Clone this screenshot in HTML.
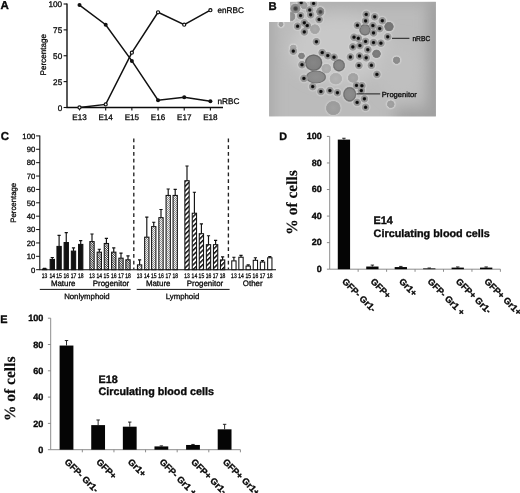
<!DOCTYPE html>
<html><head><meta charset="utf-8"><title>Figure</title>
<style>html,body{margin:0;padding:0;background:#fff;overflow:hidden;}svg{display:block;}text{font-family:"Liberation Sans",Arial,sans-serif;fill:#0a0a0a;stroke:#0a0a0a;stroke-width:0.3px;text-rendering:geometricPrecision;}.b{font-weight:bold;stroke-width:0.35px;}.s{font-family:"Liberation Serif","Times New Roman",serif;font-weight:bold;stroke-width:0.15px;}</style></head><body>
<svg width="520" height="493" viewBox="0 0 520 493">
<defs>
<pattern id="pDot" width="2" height="2" patternUnits="userSpaceOnUse"><rect width="2" height="2" fill="#f2f2f2"/><rect width="1" height="1" fill="#909090"/><rect x="1" y="1" width="1" height="1" fill="#909090"/></pattern>
<pattern id="pFine" width="1.6" height="1.6" patternUnits="userSpaceOnUse" patternTransform="rotate(45)"><rect width="1.6" height="1.6" fill="#fff"/><rect width="1.6" height="0.75" fill="#222"/></pattern>
<pattern id="pWide" width="3.4" height="3.4" patternUnits="userSpaceOnUse" patternTransform="rotate(-45)"><rect width="3.4" height="3.4" fill="#fff"/><rect width="3.4" height="1.5" fill="#111"/></pattern>
<filter id="bl" x="-20%" y="-20%" width="140%" height="140%"><feGaussianBlur stdDeviation="0.9"/></filter>
<filter id="bl2" x="-30%" y="-30%" width="160%" height="160%"><feGaussianBlur stdDeviation="1.3"/></filter>
<filter id="bl4" x="-30%" y="-30%" width="160%" height="160%"><feGaussianBlur stdDeviation="7"/></filter>
<filter id="bl3" x="-30%" y="-30%" width="160%" height="160%"><feGaussianBlur stdDeviation="0.55"/></filter>
<linearGradient id="bg" x1="0" y1="0" x2="1" y2="1"><stop offset="0" stop-color="#b9b9b9"/><stop offset="0.5" stop-color="#c6c6c6"/><stop offset="1" stop-color="#b4b4b4"/></linearGradient>
<clipPath id="clipB"><path d="M290.2 1.8H435.8V116.3H269.2V22H290.2Z"/></clipPath>
</defs>
<rect width="520" height="493" fill="#fff"/>
<g id="panelA">
<text class="b" x="0.6" y="9.2" font-size="11.5">A</text>
<path d="M67.0 3.45V107.5H223" fill="none" stroke="#0a0a0a" stroke-width="1.35"/>
<path d="M63.6 107.50H67.0" stroke="#111" stroke-width="1.1"/>
<text x="62.2" y="110.60" font-size="8.2" text-anchor="end">0</text>
<path d="M63.6 81.62H67.0" stroke="#111" stroke-width="1.1"/>
<text x="62.2" y="84.72" font-size="8.2" text-anchor="end">25</text>
<path d="M63.6 55.75H67.0" stroke="#111" stroke-width="1.1"/>
<text x="62.2" y="58.85" font-size="8.2" text-anchor="end">50</text>
<path d="M63.6 29.88H67.0" stroke="#111" stroke-width="1.1"/>
<text x="62.2" y="32.98" font-size="8.2" text-anchor="end">75</text>
<path d="M63.6 4.00H67.0" stroke="#111" stroke-width="1.1"/>
<text x="62.2" y="7.10" font-size="8.2" text-anchor="end">100</text>
<path d="M79.50 107.5V110.5" stroke="#111" stroke-width="1.1"/>
<text x="79.50" y="119.6" font-size="8.1" text-anchor="middle">E13</text>
<path d="M105.68 107.5V110.5" stroke="#111" stroke-width="1.1"/>
<text x="105.68" y="119.6" font-size="8.1" text-anchor="middle">E14</text>
<path d="M131.86 107.5V110.5" stroke="#111" stroke-width="1.1"/>
<text x="131.86" y="119.6" font-size="8.1" text-anchor="middle">E15</text>
<path d="M158.04 107.5V110.5" stroke="#111" stroke-width="1.1"/>
<text x="158.04" y="119.6" font-size="8.1" text-anchor="middle">E16</text>
<path d="M184.22 107.5V110.5" stroke="#111" stroke-width="1.1"/>
<text x="184.22" y="119.6" font-size="8.1" text-anchor="middle">E17</text>
<path d="M210.40 107.5V110.5" stroke="#111" stroke-width="1.1"/>
<text x="210.40" y="119.6" font-size="8.1" text-anchor="middle">E18</text>
<text transform="translate(46 54.7) rotate(-90)" font-size="8.1" text-anchor="middle">Percentage</text>
<polyline fill="none" stroke="#111" stroke-width="1.5" points="79.50,107.50 105.68,104.39 131.86,52.65 158.04,12.28 184.22,24.70 210.40,10.21"/>
<polyline fill="none" stroke="#111" stroke-width="1.5" points="79.50,5.03 105.68,24.70 131.86,60.92 158.04,100.25 184.22,97.15 210.40,101.29"/>
<circle cx="79.50" cy="107.50" r="1.55" fill="#fff" stroke="#111" stroke-width="1.2"/>
<circle cx="105.68" cy="104.39" r="1.55" fill="#fff" stroke="#111" stroke-width="1.2"/>
<circle cx="131.86" cy="52.65" r="1.55" fill="#fff" stroke="#111" stroke-width="1.2"/>
<circle cx="158.04" cy="12.28" r="1.55" fill="#fff" stroke="#111" stroke-width="1.2"/>
<circle cx="184.22" cy="24.70" r="1.55" fill="#fff" stroke="#111" stroke-width="1.2"/>
<circle cx="210.40" cy="10.21" r="1.55" fill="#fff" stroke="#111" stroke-width="1.2"/>
<circle cx="79.50" cy="5.03" r="2.0" fill="#111"/>
<circle cx="105.68" cy="24.70" r="2.0" fill="#111"/>
<circle cx="131.86" cy="60.92" r="2.0" fill="#111"/>
<circle cx="158.04" cy="100.25" r="2.0" fill="#111"/>
<circle cx="184.22" cy="97.15" r="2.0" fill="#111"/>
<circle cx="210.40" cy="101.29" r="2.0" fill="#111"/>
<text x="217.5" y="12.8" font-size="8.2">enRBC</text>
<text x="217.5" y="103.6" font-size="8.2">nRBC</text>
</g>
<g id="panelB">
<g clip-path="url(#clipB)">
<rect x="269" y="2" width="168" height="115" fill="url(#bg)"/>
<rect x="269" y="2" width="168" height="115" fill="#bbbbbb"/>
<g filter="url(#bl4)">
<ellipse cx="340" cy="50" rx="50" ry="34" fill="#c8c8c8"/>
<ellipse cx="400" cy="70" rx="22" ry="30" fill="#bfbfbf"/>
<rect x="428" y="-10" width="20" height="140" fill="#9c9c9c"/>
<rect x="255" y="-10" width="18" height="140" fill="#a8a8a8"/>
<rect x="255" y="-8" width="190" height="12" fill="#a8a8a8"/>
<rect x="395" y="108" width="50" height="20" fill="#a0a0a0"/>
</g>
<defs>
<radialGradient id="gH"><stop offset="0" stop-color="#d8d8d8" stop-opacity="0.95"/><stop offset="0.62" stop-color="#d8d8d8" stop-opacity="0.9"/><stop offset="1" stop-color="#d0d0d0" stop-opacity="0"/></radialGradient>
<radialGradient id="gC"><stop offset="0" stop-color="#8a8a8a"/><stop offset="0.55" stop-color="#929292"/><stop offset="0.8" stop-color="#9e9e9e"/><stop offset="1" stop-color="#a8a8a8" stop-opacity="0"/></radialGradient>
<radialGradient id="gN"><stop offset="0" stop-color="#060606"/><stop offset="0.5" stop-color="#121212"/><stop offset="0.8" stop-color="#444" stop-opacity="0.75"/><stop offset="1" stop-color="#666" stop-opacity="0"/></radialGradient>
<radialGradient id="gN2"><stop offset="0" stop-color="#383838"/><stop offset="0.5" stop-color="#484848"/><stop offset="1" stop-color="#666" stop-opacity="0"/></radialGradient>
<radialGradient id="gB0"><stop offset="0" stop-color="#929292"/><stop offset="0.639" stop-color="#8c8c8c"/><stop offset="0.759" stop-color="#8c8c8c"/><stop offset="0.898" stop-color="#8c8c8c" stop-opacity="0.85"/><stop offset="1" stop-color="#8c8c8c" stop-opacity="0"/></radialGradient>
<radialGradient id="gB1"><stop offset="0" stop-color="#949494"/><stop offset="0.570" stop-color="#8e8e8e"/><stop offset="0.690" stop-color="#8e8e8e"/><stop offset="0.869" stop-color="#8e8e8e" stop-opacity="0.85"/><stop offset="1" stop-color="#8e8e8e" stop-opacity="0"/></radialGradient>
<radialGradient id="gB2"><stop offset="0" stop-color="#a0a0a0"/><stop offset="0.547" stop-color="#9a9a9a"/><stop offset="0.667" stop-color="#9a9a9a"/><stop offset="0.859" stop-color="#9a9a9a" stop-opacity="0.85"/><stop offset="1" stop-color="#9a9a9a" stop-opacity="0"/></radialGradient>
<radialGradient id="gB3"><stop offset="0" stop-color="#8c8c8c"/><stop offset="0.585" stop-color="#868686"/><stop offset="0.705" stop-color="#868686"/><stop offset="0.875" stop-color="#868686" stop-opacity="0.85"/><stop offset="1" stop-color="#868686" stop-opacity="0"/></radialGradient>
<radialGradient id="gB4"><stop offset="0" stop-color="#aaaaaa"/><stop offset="0.630" stop-color="#a4a4a4"/><stop offset="0.750" stop-color="#a4a4a4"/><stop offset="0.894" stop-color="#a4a4a4" stop-opacity="0.85"/><stop offset="1" stop-color="#a4a4a4" stop-opacity="0"/></radialGradient>
<radialGradient id="gB5"><stop offset="0" stop-color="#a2a2a2"/><stop offset="0.416" stop-color="#9c9c9c"/><stop offset="0.536" stop-color="#9c9c9c"/><stop offset="0.804" stop-color="#9c9c9c" stop-opacity="0.85"/><stop offset="1" stop-color="#9c9c9c" stop-opacity="0"/></radialGradient>
<radialGradient id="gB6"><stop offset="0" stop-color="#868686"/><stop offset="0.519" stop-color="#808080"/><stop offset="0.639" stop-color="#808080"/><stop offset="0.847" stop-color="#808080" stop-opacity="0.85"/><stop offset="1" stop-color="#808080" stop-opacity="0"/></radialGradient>
<radialGradient id="gB7"><stop offset="0" stop-color="#868686"/><stop offset="0.739" stop-color="#808080"/><stop offset="0.859" stop-color="#666666"/><stop offset="0.940" stop-color="#808080" stop-opacity="0.85"/><stop offset="1" stop-color="#808080" stop-opacity="0"/></radialGradient>
<radialGradient id="gB8"><stop offset="0" stop-color="#8c8c8c"/><stop offset="0.670" stop-color="#868686"/><stop offset="0.790" stop-color="#6c6c6c"/><stop offset="0.911" stop-color="#868686" stop-opacity="0.85"/><stop offset="1" stop-color="#868686" stop-opacity="0"/></radialGradient>
<radialGradient id="gB9"><stop offset="0" stop-color="#808080"/><stop offset="0.597" stop-color="#7a7a7a"/><stop offset="0.717" stop-color="#7a7a7a"/><stop offset="0.880" stop-color="#7a7a7a" stop-opacity="0.85"/><stop offset="1" stop-color="#7a7a7a" stop-opacity="0"/></radialGradient>
<radialGradient id="gB10"><stop offset="0" stop-color="#7a7a7a"/><stop offset="0.620" stop-color="#747474"/><stop offset="0.740" stop-color="#747474"/><stop offset="0.890" stop-color="#747474" stop-opacity="0.85"/><stop offset="1" stop-color="#747474" stop-opacity="0"/></radialGradient>
<radialGradient id="gB11"><stop offset="0" stop-color="#909090"/><stop offset="0.555" stop-color="#8a8a8a"/><stop offset="0.675" stop-color="#8a8a8a"/><stop offset="0.863" stop-color="#8a8a8a" stop-opacity="0.85"/><stop offset="1" stop-color="#8a8a8a" stop-opacity="0"/></radialGradient>
<radialGradient id="gB12"><stop offset="0" stop-color="#909090"/><stop offset="0.757" stop-color="#8a8a8a"/><stop offset="0.877" stop-color="#707070"/><stop offset="0.948" stop-color="#8a8a8a" stop-opacity="0.85"/><stop offset="1" stop-color="#8a8a8a" stop-opacity="0"/></radialGradient>
<radialGradient id="gB13"><stop offset="0" stop-color="#8a8a8a"/><stop offset="0.677" stop-color="#848484"/><stop offset="0.797" stop-color="#6a6a6a"/><stop offset="0.914" stop-color="#848484" stop-opacity="0.85"/><stop offset="1" stop-color="#848484" stop-opacity="0"/></radialGradient>
<radialGradient id="gB14"><stop offset="0" stop-color="#b1b1b1"/><stop offset="0.630" stop-color="#ababab"/><stop offset="0.750" stop-color="#ababab"/><stop offset="0.894" stop-color="#ababab" stop-opacity="0.85"/><stop offset="1" stop-color="#ababab" stop-opacity="0"/></radialGradient>
<radialGradient id="gB15"><stop offset="0" stop-color="#b4b4b4"/><stop offset="0.683" stop-color="#aeaeae"/><stop offset="0.803" stop-color="#aeaeae"/><stop offset="0.917" stop-color="#aeaeae" stop-opacity="0.85"/><stop offset="1" stop-color="#aeaeae" stop-opacity="0"/></radialGradient>
<radialGradient id="gB16"><stop offset="0" stop-color="#a8a8a8"/><stop offset="0.648" stop-color="#a2a2a2"/><stop offset="0.768" stop-color="#a2a2a2"/><stop offset="0.902" stop-color="#a2a2a2" stop-opacity="0.85"/><stop offset="1" stop-color="#a2a2a2" stop-opacity="0"/></radialGradient>
<radialGradient id="gB17"><stop offset="0" stop-color="#8d8d8d"/><stop offset="0.694" stop-color="#878787"/><stop offset="0.814" stop-color="#6d6d6d"/><stop offset="0.921" stop-color="#878787" stop-opacity="0.85"/><stop offset="1" stop-color="#878787" stop-opacity="0"/></radialGradient>
<radialGradient id="gB18"><stop offset="0" stop-color="#a2a2a2"/><stop offset="0.709" stop-color="#9c9c9c"/><stop offset="0.829" stop-color="#9c9c9c"/><stop offset="0.928" stop-color="#9c9c9c" stop-opacity="0.85"/><stop offset="1" stop-color="#9c9c9c" stop-opacity="0"/></radialGradient>
<radialGradient id="gB19"><stop offset="0" stop-color="#a4a4a4"/><stop offset="0.563" stop-color="#9e9e9e"/><stop offset="0.683" stop-color="#9e9e9e"/><stop offset="0.866" stop-color="#9e9e9e" stop-opacity="0.85"/><stop offset="1" stop-color="#9e9e9e" stop-opacity="0"/></radialGradient>
<radialGradient id="gB20"><stop offset="0" stop-color="#aaaaaa"/><stop offset="0.519" stop-color="#a4a4a4"/><stop offset="0.639" stop-color="#a4a4a4"/><stop offset="0.847" stop-color="#a4a4a4" stop-opacity="0.85"/><stop offset="1" stop-color="#a4a4a4" stop-opacity="0"/></radialGradient>
</defs>
<g>
<circle cx="313.6" cy="3.4" r="5.6" fill="url(#gH)"/>
<circle cx="309.7" cy="10" r="5.6" fill="url(#gH)"/>
<circle cx="300.6" cy="15.6" r="5.6" fill="url(#gH)"/>
<circle cx="310.6" cy="14.8" r="5.6" fill="url(#gH)"/>
<circle cx="319.1" cy="19.5" r="5.6" fill="url(#gH)"/>
<circle cx="304.3" cy="22.8" r="5.6" fill="url(#gH)"/>
<circle cx="307.2" cy="25.6" r="5.6" fill="url(#gH)"/>
<circle cx="297.6" cy="26.2" r="5.6" fill="url(#gH)"/>
<circle cx="304.3" cy="31.9" r="5.6" fill="url(#gH)"/>
<circle cx="316.4" cy="41.7" r="5.6" fill="url(#gH)"/>
<circle cx="293.3" cy="51.1" r="5.6" fill="url(#gH)"/>
<circle cx="322.2" cy="52.6" r="5.6" fill="url(#gH)"/>
<circle cx="327.8" cy="55.6" r="5.6" fill="url(#gH)"/>
<circle cx="334" cy="57.2" r="5.6" fill="url(#gH)"/>
<circle cx="366.2" cy="14.4" r="5.6" fill="url(#gH)"/>
<circle cx="374.7" cy="16.8" r="5.6" fill="url(#gH)"/>
<circle cx="365.6" cy="20.9" r="5.6" fill="url(#gH)"/>
<circle cx="357.4" cy="25.3" r="5.6" fill="url(#gH)"/>
<circle cx="372.9" cy="25.6" r="5.6" fill="url(#gH)"/>
<circle cx="379.7" cy="28.6" r="5.6" fill="url(#gH)"/>
<circle cx="373.5" cy="32.9" r="5.6" fill="url(#gH)"/>
<circle cx="358.3" cy="38.3" r="5.6" fill="url(#gH)"/>
<circle cx="365.6" cy="41.4" r="5.6" fill="url(#gH)"/>
<circle cx="373.5" cy="42.6" r="5.6" fill="url(#gH)"/>
<circle cx="380.9" cy="43.2" r="5.6" fill="url(#gH)"/>
<circle cx="352.8" cy="46.9" r="5.6" fill="url(#gH)"/>
<circle cx="359.9" cy="45.6" r="5.6" fill="url(#gH)"/>
<circle cx="367.8" cy="49.7" r="5.6" fill="url(#gH)"/>
<circle cx="350.4" cy="57" r="5.6" fill="url(#gH)"/>
<circle cx="359.5" cy="56" r="5.6" fill="url(#gH)"/>
<circle cx="366.2" cy="57.8" r="5.6" fill="url(#gH)"/>
<circle cx="382.3" cy="20.7" r="5.6" fill="url(#gH)"/>
<circle cx="387.7" cy="36.8" r="5.6" fill="url(#gH)"/>
<circle cx="302" cy="64.7" r="5.6" fill="url(#gH)"/>
<circle cx="303.9" cy="78.4" r="5.6" fill="url(#gH)"/>
<circle cx="312.7" cy="86.6" r="5.6" fill="url(#gH)"/>
<circle cx="320.9" cy="91.5" r="5.6" fill="url(#gH)"/>
<circle cx="358.9" cy="65.5" r="5.6" fill="url(#gH)"/>
<circle cx="371.4" cy="65.3" r="5.6" fill="url(#gH)"/>
<circle cx="376.9" cy="74.4" r="5.6" fill="url(#gH)"/>
<circle cx="356.5" cy="85.4" r="5.6" fill="url(#gH)"/>
<circle cx="361.9" cy="85.7" r="5.6" fill="url(#gH)"/>
<circle cx="361.3" cy="90.6" r="5.6" fill="url(#gH)"/>
<circle cx="329.9" cy="90.6" r="5.6" fill="url(#gH)"/>
<circle cx="337.4" cy="92.7" r="5.6" fill="url(#gH)"/>
<circle cx="364.4" cy="98.8" r="5.6" fill="url(#gH)"/>
<circle cx="357.1" cy="102.4" r="5.6" fill="url(#gH)"/>
<circle cx="365.6" cy="107.3" r="5.6" fill="url(#gH)"/>
<circle cx="301.2" cy="2.6" r="5.6" fill="url(#gH)"/>
<circle cx="354" cy="37.2" r="5.6" fill="url(#gH)"/>
<ellipse cx="295.4" cy="8.5" rx="7.199999999999999" ry="7.0" fill="url(#gH)"/>
<ellipse cx="291.5" cy="16.5" rx="6.0" ry="6.6" fill="url(#gH)"/>
<ellipse cx="304" cy="5.5" rx="5.699999999999999" ry="5.699999999999999" fill="url(#gH)"/>
<ellipse cx="320.3" cy="11.6" rx="6.199999999999999" ry="6.6" fill="url(#gH)"/>
<ellipse cx="314.9" cy="29.2" rx="7.0" ry="7.0" fill="url(#gH)"/>
<ellipse cx="281" cy="24.3" rx="4.6" ry="4.6" fill="url(#gH)"/>
<ellipse cx="301.5" cy="55.9" rx="5.4" ry="5.4" fill="url(#gH)"/>
<ellipse cx="313.6" cy="62.7" rx="11.0" ry="10.5" fill="url(#gH)"/>
<ellipse cx="365" cy="29.8" rx="8.0" ry="8.0" fill="url(#gH)"/>
<ellipse cx="376.5" cy="53.8" rx="6.4" ry="6.4" fill="url(#gH)"/>
<ellipse cx="389" cy="26.6" rx="6.800000000000001" ry="6.800000000000001" fill="url(#gH)"/>
<ellipse cx="396.6" cy="60.2" rx="5.8" ry="5.8" fill="url(#gH)"/>
<ellipse cx="316" cy="77" rx="12.4" ry="8.6" fill="url(#gH)"/>
<ellipse cx="339" cy="65.4" rx="8.2" ry="8.4" fill="url(#gH)"/>
<ellipse cx="326.3" cy="68.6" rx="7.0" ry="7.0" fill="url(#gH)"/>
<ellipse cx="335.8" cy="78.7" rx="8.4" ry="7.9" fill="url(#gH)"/>
<ellipse cx="353.1" cy="77.9" rx="7.4" ry="6.9" fill="url(#gH)"/>
<ellipse cx="349.7" cy="94.3" rx="8.8" ry="9.7" fill="url(#gH)"/>
<ellipse cx="333.3" cy="108.1" rx="9.4" ry="9.2" fill="url(#gH)"/>
<ellipse cx="390.8" cy="104.2" rx="5.9" ry="5.9" fill="url(#gH)"/>
<ellipse cx="293.3" cy="47.5" rx="5.4" ry="5.0" fill="url(#gH)"/>
</g>
<g>
<ellipse cx="295.4" cy="8.5" rx="5.3999999999999995" ry="5.199999999999999" fill="url(#gB0)"/>
<ellipse cx="291.5" cy="16.5" rx="4.2" ry="4.8" fill="url(#gB1)"/>
<ellipse cx="304" cy="5.5" rx="3.9" ry="3.9" fill="url(#gB2)"/>
<ellipse cx="320.3" cy="11.6" rx="4.3999999999999995" ry="4.8" fill="url(#gB3)"/>
<ellipse cx="314.9" cy="29.2" rx="5.199999999999999" ry="5.199999999999999" fill="url(#gB4)"/>
<ellipse cx="281" cy="24.3" rx="2.8000000000000003" ry="2.8000000000000003" fill="url(#gB5)"/>
<ellipse cx="301.5" cy="55.9" rx="3.6" ry="3.6" fill="url(#gB6)"/>
<ellipse cx="313.6" cy="62.7" rx="9.2" ry="8.7" fill="url(#gB7)"/>
<ellipse cx="365" cy="29.8" rx="6.199999999999999" ry="6.199999999999999" fill="url(#gB8)"/>
<ellipse cx="376.5" cy="53.8" rx="4.6" ry="4.6" fill="url(#gB9)"/>
<ellipse cx="389" cy="26.6" rx="5.0" ry="5.0" fill="url(#gB10)"/>
<ellipse cx="396.6" cy="60.2" rx="4.0" ry="4.0" fill="url(#gB11)"/>
<ellipse cx="316" cy="77" rx="10.6" ry="6.8" fill="url(#gB12)"/>
<ellipse cx="339" cy="65.4" rx="6.3999999999999995" ry="6.6" fill="url(#gB13)"/>
<ellipse cx="326.3" cy="68.6" rx="5.199999999999999" ry="5.199999999999999" fill="url(#gB14)"/>
<ellipse cx="335.8" cy="78.7" rx="6.6" ry="6.1" fill="url(#gB15)"/>
<ellipse cx="353.1" cy="77.9" rx="5.6" ry="5.1" fill="url(#gB16)"/>
<ellipse cx="349.7" cy="94.3" rx="7.0" ry="7.8999999999999995" fill="url(#gB17)"/>
<ellipse cx="333.3" cy="108.1" rx="7.6" ry="7.3999999999999995" fill="url(#gB18)"/>
<ellipse cx="390.8" cy="104.2" rx="4.1" ry="4.1" fill="url(#gB19)"/>
<ellipse cx="293.3" cy="47.5" rx="3.6" ry="3.2" fill="url(#gB20)"/>
<circle cx="313.6" cy="3.4" r="4.3" fill="url(#gC)"/>
<circle cx="309.7" cy="10" r="4.3" fill="url(#gC)"/>
<circle cx="300.6" cy="15.6" r="4.3" fill="url(#gC)"/>
<circle cx="310.6" cy="14.8" r="4.3" fill="url(#gC)"/>
<circle cx="319.1" cy="19.5" r="4.3" fill="url(#gC)"/>
<circle cx="304.3" cy="22.8" r="4.3" fill="url(#gC)"/>
<circle cx="307.2" cy="25.6" r="4.3" fill="url(#gC)"/>
<circle cx="297.6" cy="26.2" r="4.3" fill="url(#gC)"/>
<circle cx="304.3" cy="31.9" r="4.3" fill="url(#gC)"/>
<circle cx="316.4" cy="41.7" r="4.3" fill="url(#gC)"/>
<circle cx="293.3" cy="51.1" r="4.3" fill="url(#gC)"/>
<circle cx="322.2" cy="52.6" r="4.3" fill="url(#gC)"/>
<circle cx="327.8" cy="55.6" r="4.3" fill="url(#gC)"/>
<circle cx="334" cy="57.2" r="4.3" fill="url(#gC)"/>
<circle cx="366.2" cy="14.4" r="4.3" fill="url(#gC)"/>
<circle cx="374.7" cy="16.8" r="4.3" fill="url(#gC)"/>
<circle cx="365.6" cy="20.9" r="4.3" fill="url(#gC)"/>
<circle cx="357.4" cy="25.3" r="4.3" fill="url(#gC)"/>
<circle cx="372.9" cy="25.6" r="4.3" fill="url(#gC)"/>
<circle cx="379.7" cy="28.6" r="4.3" fill="url(#gC)"/>
<circle cx="373.5" cy="32.9" r="4.3" fill="url(#gC)"/>
<circle cx="358.3" cy="38.3" r="4.3" fill="url(#gC)"/>
<circle cx="365.6" cy="41.4" r="4.3" fill="url(#gC)"/>
<circle cx="373.5" cy="42.6" r="4.3" fill="url(#gC)"/>
<circle cx="380.9" cy="43.2" r="4.3" fill="url(#gC)"/>
<circle cx="352.8" cy="46.9" r="4.3" fill="url(#gC)"/>
<circle cx="359.9" cy="45.6" r="4.3" fill="url(#gC)"/>
<circle cx="367.8" cy="49.7" r="4.3" fill="url(#gC)"/>
<circle cx="350.4" cy="57" r="4.3" fill="url(#gC)"/>
<circle cx="359.5" cy="56" r="4.3" fill="url(#gC)"/>
<circle cx="366.2" cy="57.8" r="4.3" fill="url(#gC)"/>
<circle cx="382.3" cy="20.7" r="4.3" fill="url(#gC)"/>
<circle cx="387.7" cy="36.8" r="4.3" fill="url(#gC)"/>
<circle cx="302" cy="64.7" r="4.3" fill="url(#gC)"/>
<circle cx="303.9" cy="78.4" r="4.3" fill="url(#gC)"/>
<circle cx="312.7" cy="86.6" r="4.3" fill="url(#gC)"/>
<circle cx="320.9" cy="91.5" r="4.3" fill="url(#gC)"/>
<circle cx="358.9" cy="65.5" r="4.3" fill="url(#gC)"/>
<circle cx="371.4" cy="65.3" r="4.3" fill="url(#gC)"/>
<circle cx="376.9" cy="74.4" r="4.3" fill="url(#gC)"/>
<circle cx="356.5" cy="85.4" r="4.3" fill="url(#gC)"/>
<circle cx="361.9" cy="85.7" r="4.3" fill="url(#gC)"/>
<circle cx="361.3" cy="90.6" r="4.3" fill="url(#gC)"/>
<circle cx="329.9" cy="90.6" r="4.3" fill="url(#gC)"/>
<circle cx="337.4" cy="92.7" r="4.3" fill="url(#gC)"/>
<circle cx="364.4" cy="98.8" r="4.3" fill="url(#gC)"/>
<circle cx="357.1" cy="102.4" r="4.3" fill="url(#gC)"/>
<circle cx="365.6" cy="107.3" r="4.3" fill="url(#gC)"/>
<circle cx="301.2" cy="2.6" r="4.3" fill="url(#gC)"/>
<circle cx="354" cy="37.2" r="4.3" fill="url(#gC)"/>
<circle cx="313.6" cy="3.4" r="2.2" fill="url(#gN)"/>
<circle cx="309.7" cy="10" r="2.2" fill="url(#gN)"/>
<circle cx="300.6" cy="15.6" r="2.2" fill="url(#gN)"/>
<circle cx="310.6" cy="14.8" r="2.2" fill="url(#gN)"/>
<circle cx="319.1" cy="19.5" r="2.2" fill="url(#gN)"/>
<circle cx="304.3" cy="22.8" r="2.2" fill="url(#gN)"/>
<circle cx="307.2" cy="25.6" r="2.2" fill="url(#gN)"/>
<circle cx="297.6" cy="26.2" r="2.2" fill="url(#gN)"/>
<circle cx="304.3" cy="31.9" r="2.2" fill="url(#gN)"/>
<circle cx="316.4" cy="41.7" r="2.2" fill="url(#gN)"/>
<circle cx="293.3" cy="51.1" r="2.2" fill="url(#gN)"/>
<circle cx="322.2" cy="52.6" r="2.2" fill="url(#gN)"/>
<circle cx="327.8" cy="55.6" r="2.2" fill="url(#gN)"/>
<circle cx="334" cy="57.2" r="2.2" fill="url(#gN)"/>
<circle cx="366.2" cy="14.4" r="2.2" fill="url(#gN)"/>
<circle cx="374.7" cy="16.8" r="2.2" fill="url(#gN)"/>
<circle cx="365.6" cy="20.9" r="2.2" fill="url(#gN)"/>
<circle cx="357.4" cy="25.3" r="2.2" fill="url(#gN)"/>
<circle cx="372.9" cy="25.6" r="2.2" fill="url(#gN)"/>
<circle cx="379.7" cy="28.6" r="2.2" fill="url(#gN)"/>
<circle cx="373.5" cy="32.9" r="2.2" fill="url(#gN)"/>
<circle cx="358.3" cy="38.3" r="2.2" fill="url(#gN)"/>
<circle cx="365.6" cy="41.4" r="2.2" fill="url(#gN)"/>
<circle cx="373.5" cy="42.6" r="2.2" fill="url(#gN)"/>
<circle cx="380.9" cy="43.2" r="2.2" fill="url(#gN)"/>
<circle cx="352.8" cy="46.9" r="2.2" fill="url(#gN)"/>
<circle cx="359.9" cy="45.6" r="2.2" fill="url(#gN)"/>
<circle cx="367.8" cy="49.7" r="2.2" fill="url(#gN)"/>
<circle cx="350.4" cy="57" r="2.2" fill="url(#gN)"/>
<circle cx="359.5" cy="56" r="2.2" fill="url(#gN)"/>
<circle cx="366.2" cy="57.8" r="2.2" fill="url(#gN)"/>
<circle cx="382.3" cy="20.7" r="2.2" fill="url(#gN)"/>
<circle cx="387.7" cy="36.8" r="2.2" fill="url(#gN)"/>
<circle cx="302" cy="64.7" r="2.2" fill="url(#gN)"/>
<circle cx="303.9" cy="78.4" r="2.2" fill="url(#gN)"/>
<circle cx="312.7" cy="86.6" r="2.2" fill="url(#gN)"/>
<circle cx="320.9" cy="91.5" r="2.2" fill="url(#gN)"/>
<circle cx="358.9" cy="65.5" r="2.2" fill="url(#gN)"/>
<circle cx="371.4" cy="65.3" r="2.2" fill="url(#gN)"/>
<circle cx="376.9" cy="74.4" r="2.2" fill="url(#gN)"/>
<circle cx="356.5" cy="85.4" r="2.2" fill="url(#gN)"/>
<circle cx="361.9" cy="85.7" r="2.2" fill="url(#gN)"/>
<circle cx="361.3" cy="90.6" r="2.2" fill="url(#gN)"/>
<circle cx="329.9" cy="90.6" r="2.2" fill="url(#gN)"/>
<circle cx="337.4" cy="92.7" r="2.2" fill="url(#gN)"/>
<circle cx="364.4" cy="98.8" r="2.2" fill="url(#gN)"/>
<circle cx="357.1" cy="102.4" r="2.2" fill="url(#gN)"/>
<circle cx="365.6" cy="107.3" r="2.2" fill="url(#gN)"/>
<circle cx="301.2" cy="2.6" r="2.2" fill="url(#gN)"/>
<circle cx="354" cy="37.2" r="2.2" fill="url(#gN)"/>
<circle cx="295.6" cy="8.6" r="3.2" fill="url(#gN2)"/>
<circle cx="320.4" cy="11.9" r="2.8" fill="url(#gN2)"/>
</g>
</g>
<text class="b" x="268.4" y="9.6" font-size="11.3">B</text>
<path d="M392 38.3H409.4" stroke="#1c1c1c" stroke-width="1"/>
<text transform="translate(412.4 40.8) scale(0.93 1)" font-size="7.2" fill="#1c1c1c">nRBC</text>
<path d="M356.5 93.9H380.2" stroke="#1c1c1c" stroke-width="1"/>
<text transform="translate(381.8 96.7) scale(1.04 1)" font-size="7.3" fill="#1c1c1c">Progenitor</text>
</g>
<g id="panelC">
<text class="b" x="0.7" y="140" font-size="11.4">C</text>
<path d="M39.8 135.39999999999998V269.7H276" fill="none" stroke="#111" stroke-width="1.1"/>
<path d="M36.099999999999994 269.70H39.8" stroke="#111" stroke-width="1"/>
<text x="35.199999999999996" y="272.50" font-size="7.7" text-anchor="end">0</text>
<path d="M36.099999999999994 256.32H39.8" stroke="#111" stroke-width="1"/>
<text x="35.199999999999996" y="259.12" font-size="7.7" text-anchor="end">10</text>
<path d="M36.099999999999994 242.94H39.8" stroke="#111" stroke-width="1"/>
<text x="35.199999999999996" y="245.74" font-size="7.7" text-anchor="end">20</text>
<path d="M36.099999999999994 229.56H39.8" stroke="#111" stroke-width="1"/>
<text x="35.199999999999996" y="232.36" font-size="7.7" text-anchor="end">30</text>
<path d="M36.099999999999994 216.18H39.8" stroke="#111" stroke-width="1"/>
<text x="35.199999999999996" y="218.98" font-size="7.7" text-anchor="end">40</text>
<path d="M36.099999999999994 202.80H39.8" stroke="#111" stroke-width="1"/>
<text x="35.199999999999996" y="205.60" font-size="7.7" text-anchor="end">50</text>
<path d="M36.099999999999994 189.42H39.8" stroke="#111" stroke-width="1"/>
<text x="35.199999999999996" y="192.22" font-size="7.7" text-anchor="end">60</text>
<path d="M36.099999999999994 176.04H39.8" stroke="#111" stroke-width="1"/>
<text x="35.199999999999996" y="178.84" font-size="7.7" text-anchor="end">70</text>
<path d="M36.099999999999994 162.66H39.8" stroke="#111" stroke-width="1"/>
<text x="35.199999999999996" y="165.46" font-size="7.7" text-anchor="end">80</text>
<path d="M36.099999999999994 149.28H39.8" stroke="#111" stroke-width="1"/>
<text x="35.199999999999996" y="152.08" font-size="7.7" text-anchor="end">90</text>
<path d="M36.099999999999994 135.90H39.8" stroke="#111" stroke-width="1"/>
<text x="35.199999999999996" y="138.70" font-size="7.7" text-anchor="end">100</text>
<text transform="translate(16 202.8) rotate(-90)" font-size="7.8" text-anchor="middle">Percentage</text>
<path d="M44.60 269.03V268.36M43.00 268.36H46.20" stroke="#111" stroke-width="1.15" fill="none"/>
<rect x="42.45" y="269.03" width="4.3" height="0.67" fill="#111" stroke="#111" stroke-width="1.05"/>
<text transform="translate(44.60 277.9) scale(0.75 1)" font-size="6.7" text-anchor="middle">13</text>
<path d="M52.30 259.40V257.52M50.70 257.52H53.90" stroke="#111" stroke-width="1.15" fill="none"/>
<rect x="50.15" y="259.40" width="4.3" height="10.30" fill="#111" stroke="#111" stroke-width="1.05"/>
<text transform="translate(52.30 277.9) scale(0.75 1)" font-size="6.7" text-anchor="middle">14</text>
<path d="M59.10 246.42V235.31M57.50 235.31H60.70" stroke="#111" stroke-width="1.15" fill="none"/>
<rect x="56.95" y="246.42" width="4.3" height="23.28" fill="#111" stroke="#111" stroke-width="1.05"/>
<text transform="translate(59.10 277.9) scale(0.75 1)" font-size="6.7" text-anchor="middle">15</text>
<path d="M66.25 242.54V232.64M64.65 232.64H67.85" stroke="#111" stroke-width="1.15" fill="none"/>
<rect x="64.10" y="242.54" width="4.3" height="27.16" fill="#111" stroke="#111" stroke-width="1.05"/>
<text transform="translate(66.25 277.9) scale(0.75 1)" font-size="6.7" text-anchor="middle">16</text>
<path d="M73.50 251.10V247.89M71.90 247.89H75.10" stroke="#111" stroke-width="1.15" fill="none"/>
<rect x="71.35" y="251.10" width="4.3" height="18.60" fill="#111" stroke="#111" stroke-width="1.05"/>
<text transform="translate(73.50 277.9) scale(0.75 1)" font-size="6.7" text-anchor="middle">17</text>
<path d="M80.70 244.41V240.67M79.10 240.67H82.30" stroke="#111" stroke-width="1.15" fill="none"/>
<rect x="78.55" y="244.41" width="4.3" height="25.29" fill="#111" stroke="#111" stroke-width="1.05"/>
<text transform="translate(80.70 277.9) scale(0.75 1)" font-size="6.7" text-anchor="middle">18</text>
<path d="M92.00 241.60V233.98M90.40 233.98H93.60" stroke="#111" stroke-width="1.15" fill="none"/>
<rect x="89.85" y="241.60" width="4.3" height="28.10" fill="url(#pFine)" stroke="#111" stroke-width="1.05"/>
<text transform="translate(92.00 277.9) scale(0.75 1)" font-size="6.7" text-anchor="middle">13</text>
<path d="M99.30 252.17V249.23M97.70 249.23H100.90" stroke="#111" stroke-width="1.15" fill="none"/>
<rect x="97.15" y="252.17" width="4.3" height="17.53" fill="url(#pFine)" stroke="#111" stroke-width="1.05"/>
<text transform="translate(99.30 277.9) scale(0.75 1)" font-size="6.7" text-anchor="middle">14</text>
<path d="M106.40 243.48V238.39M104.80 238.39H108.00" stroke="#111" stroke-width="1.15" fill="none"/>
<rect x="104.25" y="243.48" width="4.3" height="26.22" fill="url(#pFine)" stroke="#111" stroke-width="1.05"/>
<text transform="translate(106.40 277.9) scale(0.75 1)" font-size="6.7" text-anchor="middle">15</text>
<path d="M113.75 252.17V247.89M112.15 247.89H115.35" stroke="#111" stroke-width="1.15" fill="none"/>
<rect x="111.60" y="252.17" width="4.3" height="17.53" fill="url(#pFine)" stroke="#111" stroke-width="1.05"/>
<text transform="translate(113.75 277.9) scale(0.75 1)" font-size="6.7" text-anchor="middle">16</text>
<path d="M121.00 258.19V253.11M119.40 253.11H122.60" stroke="#111" stroke-width="1.15" fill="none"/>
<rect x="118.85" y="258.19" width="4.3" height="11.51" fill="url(#pFine)" stroke="#111" stroke-width="1.05"/>
<text transform="translate(121.00 277.9) scale(0.75 1)" font-size="6.7" text-anchor="middle">17</text>
<path d="M128.00 259.80V255.92M126.40 255.92H129.60" stroke="#111" stroke-width="1.15" fill="none"/>
<rect x="125.85" y="259.80" width="4.3" height="9.90" fill="url(#pFine)" stroke="#111" stroke-width="1.05"/>
<text transform="translate(128.00 277.9) scale(0.75 1)" font-size="6.7" text-anchor="middle">18</text>
<path d="M139.60 264.88V259.93M138.00 259.93H141.20" stroke="#111" stroke-width="1.15" fill="none"/>
<rect x="137.45" y="264.88" width="4.3" height="4.82" fill="url(#pDot)" stroke="#111" stroke-width="1.05"/>
<text transform="translate(139.60 277.9) scale(0.75 1)" font-size="6.7" text-anchor="middle">13</text>
<path d="M146.80 237.19V217.12M145.20 217.12H148.40" stroke="#111" stroke-width="1.15" fill="none"/>
<rect x="144.65" y="237.19" width="4.3" height="32.51" fill="url(#pDot)" stroke="#111" stroke-width="1.05"/>
<text transform="translate(146.80 277.9) scale(0.75 1)" font-size="6.7" text-anchor="middle">14</text>
<path d="M153.75 226.62V222.20M152.15 222.20H155.35" stroke="#111" stroke-width="1.15" fill="none"/>
<rect x="151.60" y="226.62" width="4.3" height="43.08" fill="url(#pDot)" stroke="#111" stroke-width="1.05"/>
<text transform="translate(153.75 277.9) scale(0.75 1)" font-size="6.7" text-anchor="middle">15</text>
<path d="M161.00 217.65V209.49M159.40 209.49H162.60" stroke="#111" stroke-width="1.15" fill="none"/>
<rect x="158.85" y="217.65" width="4.3" height="52.05" fill="url(#pDot)" stroke="#111" stroke-width="1.05"/>
<text transform="translate(161.00 277.9) scale(0.75 1)" font-size="6.7" text-anchor="middle">16</text>
<path d="M168.20 195.44V189.02M166.60 189.02H169.80" stroke="#111" stroke-width="1.15" fill="none"/>
<rect x="166.05" y="195.44" width="4.3" height="74.26" fill="url(#pDot)" stroke="#111" stroke-width="1.05"/>
<text transform="translate(168.20 277.9) scale(0.75 1)" font-size="6.7" text-anchor="middle">17</text>
<path d="M175.20 195.44V189.42M173.60 189.42H176.80" stroke="#111" stroke-width="1.15" fill="none"/>
<rect x="173.05" y="195.44" width="4.3" height="74.26" fill="url(#pDot)" stroke="#111" stroke-width="1.05"/>
<text transform="translate(175.20 277.9) scale(0.75 1)" font-size="6.7" text-anchor="middle">18</text>
<path d="M187.00 180.72V166.00M185.40 166.00H188.60" stroke="#111" stroke-width="1.15" fill="none"/>
<rect x="184.85" y="180.72" width="4.3" height="88.98" fill="url(#pWide)" stroke="#111" stroke-width="1.05"/>
<text transform="translate(187.00 277.9) scale(0.75 1)" font-size="6.7" text-anchor="middle">13</text>
<path d="M194.40 213.24V192.23M192.80 192.23H196.00" stroke="#111" stroke-width="1.15" fill="none"/>
<rect x="192.25" y="213.24" width="4.3" height="56.46" fill="url(#pWide)" stroke="#111" stroke-width="1.05"/>
<text transform="translate(194.40 277.9) scale(0.75 1)" font-size="6.7" text-anchor="middle">14</text>
<path d="M201.40 233.71V223.81M199.80 223.81H203.00" stroke="#111" stroke-width="1.15" fill="none"/>
<rect x="199.25" y="233.71" width="4.3" height="35.99" fill="url(#pWide)" stroke="#111" stroke-width="1.05"/>
<text transform="translate(201.40 277.9) scale(0.75 1)" font-size="6.7" text-anchor="middle">15</text>
<path d="M208.50 244.68V235.71M206.90 235.71H210.10" stroke="#111" stroke-width="1.15" fill="none"/>
<rect x="206.35" y="244.68" width="4.3" height="25.02" fill="url(#pWide)" stroke="#111" stroke-width="1.05"/>
<text transform="translate(208.50 277.9) scale(0.75 1)" font-size="6.7" text-anchor="middle">16</text>
<path d="M215.60 244.68V240.40M214.00 240.40H217.20" stroke="#111" stroke-width="1.15" fill="none"/>
<rect x="213.45" y="244.68" width="4.3" height="25.02" fill="url(#pWide)" stroke="#111" stroke-width="1.05"/>
<text transform="translate(215.60 277.9) scale(0.75 1)" font-size="6.7" text-anchor="middle">17</text>
<path d="M222.60 259.93V256.86M221.00 256.86H224.20" stroke="#111" stroke-width="1.15" fill="none"/>
<rect x="220.45" y="259.93" width="4.3" height="9.77" fill="url(#pWide)" stroke="#111" stroke-width="1.05"/>
<text transform="translate(222.60 277.9) scale(0.75 1)" font-size="6.7" text-anchor="middle">18</text>
<path d="M233.90 260.87V257.26M232.30 257.26H235.50" stroke="#111" stroke-width="1.15" fill="none"/>
<rect x="231.75" y="260.87" width="4.3" height="8.83" fill="#fff" stroke="#111" stroke-width="1.05"/>
<text transform="translate(233.90 277.9) scale(0.75 1)" font-size="6.7" text-anchor="middle">13</text>
<path d="M241.00 257.26V255.38M239.40 255.38H242.60" stroke="#111" stroke-width="1.15" fill="none"/>
<rect x="238.85" y="257.26" width="4.3" height="12.44" fill="#fff" stroke="#111" stroke-width="1.05"/>
<text transform="translate(241.00 277.9) scale(0.75 1)" font-size="6.7" text-anchor="middle">14</text>
<path d="M248.20 266.09V264.88M246.60 264.88H249.80" stroke="#111" stroke-width="1.15" fill="none"/>
<rect x="246.05" y="266.09" width="4.3" height="3.61" fill="#fff" stroke="#111" stroke-width="1.05"/>
<text transform="translate(248.20 277.9) scale(0.75 1)" font-size="6.7" text-anchor="middle">15</text>
<path d="M255.40 260.33V257.79M253.80 257.79H257.00" stroke="#111" stroke-width="1.15" fill="none"/>
<rect x="253.25" y="260.33" width="4.3" height="9.37" fill="#fff" stroke="#111" stroke-width="1.05"/>
<text transform="translate(255.40 277.9) scale(0.75 1)" font-size="6.7" text-anchor="middle">16</text>
<path d="M262.50 262.07V260.60M260.90 260.60H264.10" stroke="#111" stroke-width="1.15" fill="none"/>
<rect x="260.35" y="262.07" width="4.3" height="7.63" fill="#fff" stroke="#111" stroke-width="1.05"/>
<text transform="translate(262.50 277.9) scale(0.75 1)" font-size="6.7" text-anchor="middle">17</text>
<path d="M269.80 257.79V256.59M268.20 256.59H271.40" stroke="#111" stroke-width="1.15" fill="none"/>
<rect x="267.65" y="257.79" width="4.3" height="11.91" fill="#fff" stroke="#111" stroke-width="1.05"/>
<text transform="translate(269.80 277.9) scale(0.75 1)" font-size="6.7" text-anchor="middle">18</text>
<path d="M133.8 138.4V269.5" stroke="#222" stroke-width="1.35" stroke-dasharray="3.8 3.0"/>
<path d="M228.4 138.4V269.5" stroke="#222" stroke-width="1.35" stroke-dasharray="3.8 3.0"/>
<text x="63.2" y="285.6" font-size="7.9" text-anchor="middle">Mature</text>
<text x="111" y="285.6" font-size="7.9" text-anchor="middle">Progenitor</text>
<text x="158.2" y="285.6" font-size="7.9" text-anchor="middle">Mature</text>
<text x="205" y="285.6" font-size="7.9" text-anchor="middle">Progenitor</text>
<text x="252.7" y="285.6" font-size="7.9" text-anchor="middle">Other</text>
<path d="M39.8 289.4H130.6M136.7 289.4H229.6" stroke="#111" stroke-width="1"/>
<text x="86.9" y="298.6" font-size="7.8" text-anchor="middle">Nonlymphoid</text>
<text x="182.5" y="298.6" font-size="7.8" text-anchor="middle">Lymphoid</text>
</g>
<g id="panelD">
<text class="b" x="279.3" y="139.9" font-size="10.8">D</text>
<path d="M329.7 136.4V269.2H500.40" fill="none" stroke="#808080" stroke-width="0.9"/>
<path d="M326.9 269.20H329.7" stroke="#808080" stroke-width="0.9"/>
<text class="b" x="321.8" y="271.84" font-size="9.0" text-anchor="end">0</text>
<path d="M326.9 242.64H329.7" stroke="#808080" stroke-width="0.9"/>
<text class="b" x="321.8" y="245.28" font-size="9.0" text-anchor="end">20</text>
<path d="M326.9 216.08H329.7" stroke="#808080" stroke-width="0.9"/>
<text class="b" x="321.8" y="218.72" font-size="9.0" text-anchor="end">40</text>
<path d="M326.9 189.52H329.7" stroke="#808080" stroke-width="0.9"/>
<text class="b" x="321.8" y="192.16" font-size="9.0" text-anchor="end">60</text>
<path d="M326.9 162.96H329.7" stroke="#808080" stroke-width="0.9"/>
<text class="b" x="321.8" y="165.60" font-size="9.0" text-anchor="end">80</text>
<path d="M326.9 136.40H329.7" stroke="#808080" stroke-width="0.9"/>
<text class="b" x="321.8" y="139.04" font-size="9.0" text-anchor="end">100</text>
<path d="M358.15 269.2V271.8" stroke="#808080" stroke-width="0.9"/>
<path d="M386.60 269.2V271.8" stroke="#808080" stroke-width="0.9"/>
<path d="M415.05 269.2V271.8" stroke="#808080" stroke-width="0.9"/>
<path d="M443.50 269.2V271.8" stroke="#808080" stroke-width="0.9"/>
<path d="M471.95 269.2V271.8" stroke="#808080" stroke-width="0.9"/>
<path d="M500.40 269.2V271.8" stroke="#808080" stroke-width="0.9"/>
<path d="M343.93 139.59V138.26M342.23 138.26H345.62" stroke="#111" stroke-width="0.9" fill="none"/>
<rect x="337.78" y="139.59" width="12.3" height="129.61" fill="#050505"/>
<text class="b" transform="translate(341.53 281.90) rotate(45)" font-size="9.2">GFP- Gr1-</text>
<path d="M372.38 266.54V265.08M370.68 265.08H374.07" stroke="#111" stroke-width="0.9" fill="none"/>
<rect x="366.23" y="266.54" width="12.3" height="2.66" fill="#050505"/>
<text class="b" transform="translate(369.98 281.90) rotate(45)" font-size="9.2">GFP+</text>
<path d="M400.82 267.08V266.41M399.12 266.41H402.52" stroke="#111" stroke-width="0.9" fill="none"/>
<rect x="394.68" y="267.08" width="12.3" height="2.12" fill="#050505"/>
<text class="b" transform="translate(398.43 281.90) rotate(45)" font-size="9.2">Gr1+</text>
<path d="M429.27 268.40V268.00M427.57 268.00H430.97" stroke="#111" stroke-width="0.9" fill="none"/>
<rect x="423.12" y="268.40" width="12.3" height="0.80" fill="#050505"/>
<text class="b" transform="translate(426.88 281.90) rotate(45)" font-size="9.2">GFP- Gr1 +</text>
<path d="M457.73 267.61V266.94M456.03 266.94H459.43" stroke="#111" stroke-width="0.9" fill="none"/>
<rect x="451.58" y="267.61" width="12.3" height="1.59" fill="#050505"/>
<text class="b" transform="translate(455.33 281.90) rotate(45)" font-size="9.2">GFP+ Gr1-</text>
<path d="M486.17 267.61V266.94M484.47 266.94H487.87" stroke="#111" stroke-width="0.9" fill="none"/>
<rect x="480.02" y="267.61" width="12.3" height="1.59" fill="#050505"/>
<text class="b" transform="translate(483.77 281.90) rotate(45)" font-size="9.2">GFP+ Gr1+</text>
<text class="b" x="373.6" y="224.3" font-size="10.85">E14</text>
<text class="b" x="373.6" y="236.8" font-size="10.85">Circulating blood cells</text>
<text class="s" transform="translate(297.2 202.4) rotate(-90)" font-size="15.5" text-anchor="middle">% of cells</text>
</g>
<g id="panelE">
<text class="b" x="0.3" y="322.5" font-size="10.9">E</text>
<path d="M50.7 318.2V449.7H240.42" fill="none" stroke="#808080" stroke-width="0.9"/>
<path d="M47.900000000000006 449.70H50.7" stroke="#808080" stroke-width="0.9"/>
<text class="b" x="43.4" y="452.98" font-size="9.1" text-anchor="end">0</text>
<path d="M47.900000000000006 423.40H50.7" stroke="#808080" stroke-width="0.9"/>
<text class="b" x="43.4" y="426.68" font-size="9.1" text-anchor="end">20</text>
<path d="M47.900000000000006 397.10H50.7" stroke="#808080" stroke-width="0.9"/>
<text class="b" x="43.4" y="400.38" font-size="9.1" text-anchor="end">40</text>
<path d="M47.900000000000006 370.80H50.7" stroke="#808080" stroke-width="0.9"/>
<text class="b" x="43.4" y="374.08" font-size="9.1" text-anchor="end">60</text>
<path d="M47.900000000000006 344.50H50.7" stroke="#808080" stroke-width="0.9"/>
<text class="b" x="43.4" y="347.78" font-size="9.1" text-anchor="end">80</text>
<path d="M47.900000000000006 318.20H50.7" stroke="#808080" stroke-width="0.9"/>
<text class="b" x="43.4" y="321.48" font-size="9.1" text-anchor="end">100</text>
<path d="M82.32 449.7V452.3" stroke="#808080" stroke-width="0.9"/>
<path d="M113.94 449.7V452.3" stroke="#808080" stroke-width="0.9"/>
<path d="M145.56 449.7V452.3" stroke="#808080" stroke-width="0.9"/>
<path d="M177.18 449.7V452.3" stroke="#808080" stroke-width="0.9"/>
<path d="M208.80 449.7V452.3" stroke="#808080" stroke-width="0.9"/>
<path d="M240.42 449.7V452.3" stroke="#808080" stroke-width="0.9"/>
<path d="M66.51 345.55V340.56M64.81 340.56H68.21" stroke="#111" stroke-width="0.9" fill="none"/>
<rect x="59.61" y="345.55" width="13.8" height="104.15" fill="#050505"/>
<text class="b" transform="translate(64.11 462.40) rotate(45)" font-size="9.2">GFP- Gr1-</text>
<path d="M98.13 425.11V419.98M96.43 419.98H99.83" stroke="#111" stroke-width="0.9" fill="none"/>
<rect x="91.23" y="425.11" width="13.8" height="24.59" fill="#050505"/>
<text class="b" transform="translate(95.73 462.40) rotate(45)" font-size="9.2">GFP+</text>
<path d="M129.75 426.69V422.08M128.05 422.08H131.45" stroke="#111" stroke-width="0.9" fill="none"/>
<rect x="122.85" y="426.69" width="13.8" height="23.01" fill="#050505"/>
<text class="b" transform="translate(127.35 462.40) rotate(45)" font-size="9.2">Gr1+</text>
<path d="M161.37 446.41V445.89M159.67 445.89H163.07" stroke="#111" stroke-width="0.9" fill="none"/>
<rect x="154.47" y="446.41" width="13.8" height="3.29" fill="#050505"/>
<text class="b" transform="translate(158.97 462.40) rotate(45)" font-size="9.2">GFP- Gr1 +</text>
<path d="M192.99 444.97V444.44M191.29 444.44H194.69" stroke="#111" stroke-width="0.9" fill="none"/>
<rect x="186.09" y="444.97" width="13.8" height="4.73" fill="#050505"/>
<text class="b" transform="translate(190.59 462.40) rotate(45)" font-size="9.2">GFP+ Gr1-</text>
<path d="M224.61 429.32V424.32M222.91 424.32H226.31" stroke="#111" stroke-width="0.9" fill="none"/>
<rect x="217.71" y="429.32" width="13.8" height="20.38" fill="#050505"/>
<text class="b" transform="translate(222.21 462.40) rotate(45)" font-size="9.2">GFP+ Gr1+</text>
<text class="b" x="98.6" y="383" font-size="10.75">E18</text>
<text class="b" x="98.6" y="395" font-size="10.75">Circulating blood cells</text>
<text class="s" transform="translate(15 388.8) rotate(-90)" font-size="15.5" text-anchor="middle">% of cells</text>
</g>
</svg></body></html>
